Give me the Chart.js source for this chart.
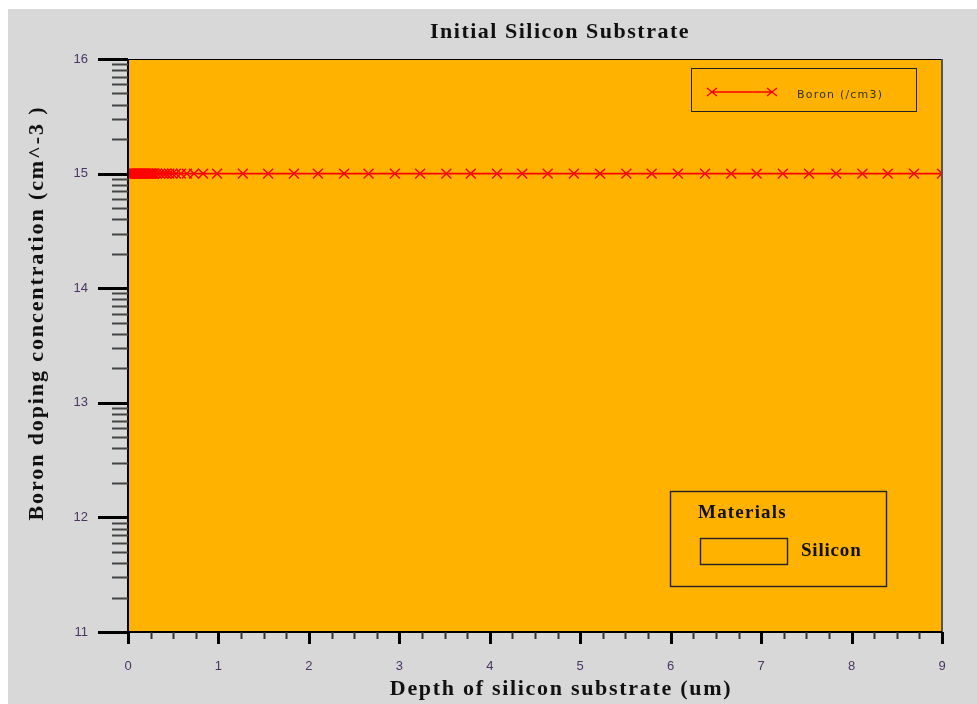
<!DOCTYPE html>
<html>
<head>
<meta charset="utf-8">
<title>Initial Silicon Substrate</title>
<script src="https://cdn.jsdelivr.net/npm/chart.js@4.4.1/dist/chart.umd.min.js"></script>
<style>
  html, body { margin: 0; padding: 0; background: #fff; }
  #wrap { width: 977px; height: 704px; }
</style>
</head>
<body>
<div id="wrap"><canvas id="dopingChart" width="977" height="704"></canvas></div>
<script>
// Depth of the mesh points (um)
const depthUm = [
  0, 0.01, 0.02, 0.03, 0.04, 0.05, 0.06, 0.07, 0.08, 0.09,
  0.1, 0.11, 0.12, 0.13, 0.14, 0.15, 0.16, 0.17, 0.18, 0.19,
  0.2, 0.21, 0.22, 0.23, 0.24, 0.25, 0.26, 0.27, 0.28, 0.29,
  0.32, 0.355, 0.39, 0.42, 0.455, 0.49, 0.53, 0.585, 0.65, 0.73,
  0.83, 0.985, 1.27, 1.55, 1.835, 2.1, 2.39, 2.66, 2.95, 3.23,
  3.52, 3.79, 4.08, 4.36, 4.64, 4.93, 5.22, 5.51, 5.79, 6.08,
  6.38, 6.67, 6.95, 7.24, 7.53, 7.83, 8.12, 8.4, 8.69, 9.0
];

// Boron concentration (/cm3) - flat initial substrate doping
const boronConc = [
  1e15, 1e15, 1e15, 1e15, 1e15, 1e15, 1e15, 1e15, 1e15, 1e15,
  1e15, 1e15, 1e15, 1e15, 1e15, 1e15, 1e15, 1e15, 1e15, 1e15,
  1e15, 1e15, 1e15, 1e15, 1e15, 1e15, 1e15, 1e15, 1e15, 1e15,
  1e15, 1e15, 1e15, 1e15, 1e15, 1e15, 1e15, 1e15, 1e15, 1e15,
  1e15, 1e15, 1e15, 1e15, 1e15, 1e15, 1e15, 1e15, 1e15, 1e15,
  1e15, 1e15, 1e15, 1e15, 1e15, 1e15, 1e15, 1e15, 1e15, 1e15,
  1e15, 1e15, 1e15, 1e15, 1e15, 1e15, 1e15, 1e15, 1e15, 1e15
];

const xTickLabels = ["0", "1", "2", "3", "4", "5", "6", "7", "8", "9"];
const yTickLabels = ["11", "12", "13", "14", "15", "16"]; // log10 exponents

const ORANGE = "#FFB300";
const GRAY = "#D8D8D8";
const TICK_COLOR = "#4b3563";
const SERIF = "'Liberation Serif', 'DejaVu Serif', serif";

// small helper, canvas letterSpacing keeps the text as real text
function spacedText(ctx, text, x, y, spacing) {
  ctx.letterSpacing = spacing + "px";
  ctx.fillText(text, x, y);
  ctx.letterSpacing = "0px";
}

// Draws background, axis frame, tick marks, titles and the two legend boxes
const tonyFrame = {
  id: "tonyFrame",
  beforeDraw(chart) {
    const { ctx, chartArea: a } = chart;
    ctx.save();
    ctx.fillStyle = GRAY;
    ctx.fillRect(8, 9, chart.width - 8, chart.height - 9);
    ctx.fillStyle = ORANGE;
    ctx.fillRect(a.left, a.top, a.right - a.left, a.bottom - a.top);
    ctx.restore();
  },
  afterDraw(chart) {
    const { ctx, chartArea: a } = chart;
    const xScale = chart.scales.x;
    const yScale = chart.scales.y;
    ctx.save();

    // frame
    ctx.strokeStyle = "#000";
    ctx.lineWidth = 1;
    ctx.beginPath();
    ctx.moveTo(a.left, a.top + 0.5);
    ctx.lineTo(a.right, a.top + 0.5);
    ctx.stroke();
    ctx.strokeStyle = "#555";
    ctx.lineWidth = 2;
    ctx.beginPath();
    ctx.moveTo(a.right, a.top);
    ctx.lineTo(a.right, a.bottom);
    ctx.stroke();
    ctx.strokeStyle = "#000";
    ctx.beginPath();
    ctx.moveTo(a.left, a.top);
    ctx.lineTo(a.left, a.bottom);
    ctx.moveTo(a.left, a.bottom);
    ctx.lineTo(a.right, a.bottom);
    ctx.stroke();

    // x ticks
    xScale.ticks.forEach((t) => {
      const px = Math.round(xScale.getPixelForValue(t.value)) + 0.5;
      ctx.beginPath();
      if (t.major) {
        ctx.strokeStyle = "#000";
        ctx.lineWidth = 3;
        ctx.moveTo(px, a.bottom);
        ctx.lineTo(px, a.bottom + 12);
      } else {
        ctx.strokeStyle = "#333";
        ctx.lineWidth = 2;
        ctx.moveTo(px, a.bottom);
        ctx.lineTo(px, a.bottom + 7);
      }
      ctx.stroke();
    });

    // y ticks
    yScale.ticks.forEach((t) => {
      const py = Math.round(yScale.getPixelForValue(t.value)) + 0.5;
      ctx.beginPath();
      if (t.major) {
        ctx.strokeStyle = "#000";
        ctx.lineWidth = 3;
        ctx.moveTo(a.left - 30, py);
        ctx.lineTo(a.left, py);
      } else {
        ctx.strokeStyle = "#444";
        ctx.lineWidth = 2;
        ctx.moveTo(a.left - 16, py);
        ctx.lineTo(a.left, py);
      }
      ctx.stroke();
    });

    // titles
    ctx.fillStyle = "#111";
    ctx.textAlign = "center";
    ctx.textBaseline = "middle";
    ctx.font = "bold 22px " + SERIF;
    spacedText(ctx, "Initial Silicon Substrate", 560, 32, 1.5);
    spacedText(ctx, "Depth of silicon substrate (um)", 561, 689, 1.7);
    ctx.save();
    ctx.translate(37, 313);
    ctx.rotate(-Math.PI / 2);
    spacedText(ctx, "Boron doping concentration (cm^-3 )", 0, 0, 1.9);
    ctx.restore();

    // series legend
    ctx.strokeStyle = "#222";
    ctx.lineWidth = 1;
    ctx.strokeRect(691.5, 68.5, 225, 43);
    ctx.strokeStyle = "red";
    ctx.lineWidth = 1.4;
    ctx.beginPath();
    ctx.moveTo(712, 92);
    ctx.lineTo(772, 92);
    [712, 772].forEach((cx) => {
      ctx.moveTo(cx - 5, 88);
      ctx.lineTo(cx + 5, 96);
      ctx.moveTo(cx - 5, 96);
      ctx.lineTo(cx + 5, 88);
    });
    ctx.stroke();
    ctx.fillStyle = "#333";
    ctx.textAlign = "left";
    ctx.font = "11px 'DejaVu Sans', sans-serif";
    spacedText(ctx, "Boron (/cm3)", 797, 95, 1.2);

    // materials legend
    ctx.strokeStyle = "#222";
    ctx.strokeRect(670.5, 491.5, 216, 95);
    ctx.strokeRect(700.5, 538.5, 87, 26);
    ctx.fillStyle = "#111";
    ctx.font = "bold 19px " + SERIF;
    spacedText(ctx, "Materials", 698, 513, 1.2);
    spacedText(ctx, "Silicon", 801, 551, 0.8);

    ctx.restore();
  },
};

const ctx = document.getElementById("dopingChart");

new Chart(ctx, {
  type: "line",
  data: {
    datasets: [
      {
        label: "Boron (/cm3)",
        data: depthUm.map((d, i) => ({ x: d, y: boronConc[i] })),
        borderColor: "#FF0000",
        borderWidth: 1.8,
        pointStyle: "crossRot",
        pointRadius: 7,
        pointBorderColor: "#FF0000",
        pointBorderWidth: 1.4,
        pointBackgroundColor: "#FF0000",
        tension: 0,
      },
    ],
  },
  options: {
    responsive: false,
    animation: false,
    devicePixelRatio: 1,
    layout: { padding: { left: 20, right: 35, top: 59, bottom: 0 } },
    plugins: {
      legend: { display: false },
      title: { display: false },
      tooltip: { enabled: false },
    },
    scales: {
      x: {
        type: "linear",
        min: 0,
        max: 9,
        grid: { display: false, drawTicks: false },
        border: { display: false },
        afterBuildTicks: (scale) => {
          const ticks = [];
          xTickLabels.forEach((lbl, i) => {
            const v = Number(lbl);
            ticks.push({ value: v, major: true });
            if (i < xTickLabels.length - 1) {
              [0.25, 0.5, 0.75].forEach((f) => ticks.push({ value: v + f, major: false }));
            }
          });
          scale.ticks = ticks;
        },
        afterFit: (scale) => {
          scale.height = 72;
        },
        ticks: {
          autoSkip: false,
          maxRotation: 0,
          padding: 27,
          color: TICK_COLOR,
          font: { family: "'Liberation Sans', Arial, sans-serif", size: 13 },
          callback: (value, index, ticks) => (ticks[index].major ? String(value) : ""),
        },
      },
      y: {
        type: "logarithmic",
        min: 1e11,
        max: 1e16,
        grid: { display: false, drawTicks: false },
        border: { display: false },
        afterBuildTicks: (scale) => {
          const ticks = [];
          yTickLabels.forEach((lbl, i) => {
            const base = Math.pow(10, Number(lbl));
            ticks.push({ value: base, major: true, exp: lbl });
            if (i < yTickLabels.length - 1) {
              for (let k = 2; k <= 9; k++) ticks.push({ value: k * base, major: false });
            }
          });
          scale.ticks = ticks;
        },
        afterFit: (scale) => {
          scale.width = 108;
        },
        ticks: {
          autoSkip: false,
          padding: 40,
          color: TICK_COLOR,
          font: { family: "'Liberation Sans', Arial, sans-serif", size: 13 },
          callback: (value, index, ticks) => (ticks[index].major ? ticks[index].exp : ""),
        },
      },
    },
  },
  plugins: [tonyFrame],
});
</script>
</body>
</html>
